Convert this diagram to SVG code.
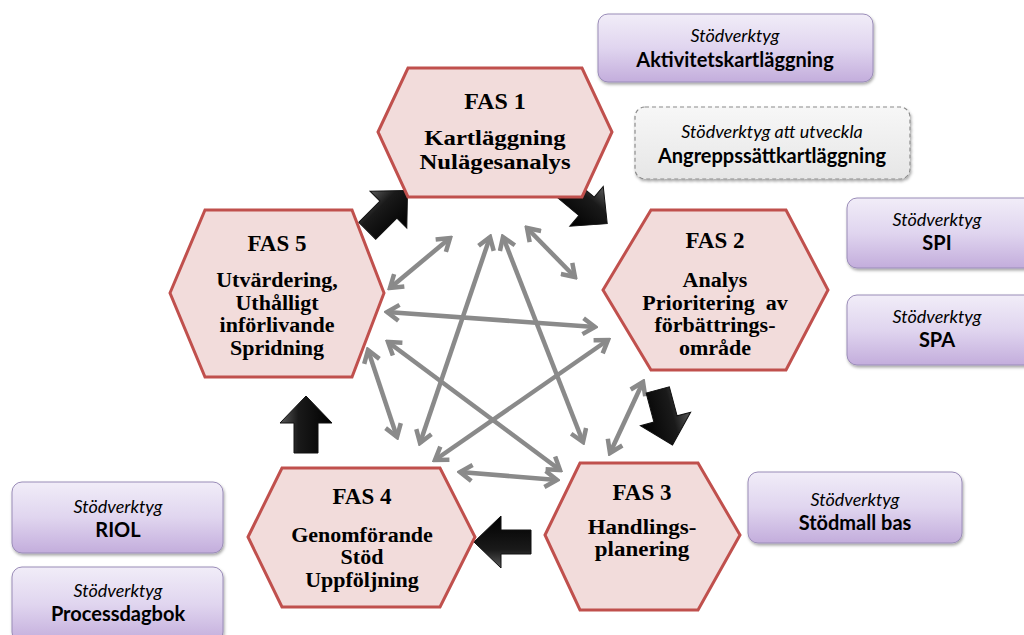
<svg xmlns="http://www.w3.org/2000/svg" width="1024" height="635" viewBox="0 0 1024 635">
<style>
.hex{fill:#f2dcdb;stroke:#c0504d;stroke-width:3}
.ht{font-family:"Liberation Serif",serif;font-weight:bold;fill:#000;text-anchor:middle}
.hf{font-size:23px}
.hb{font-size:20px}
.box{fill:url(#pg);stroke:#9a8cb8;stroke-width:1;filter:url(#sh)}
.dbox{fill:url(#gg);stroke:#8c8c8c;stroke-width:1.2;stroke-dasharray:4 3;filter:url(#sh)}
.bi{font-family:Lato,"Open Sans",sans-serif;font-style:italic;font-size:18px;fill:#000;text-anchor:middle}
.bb{font-family:Lato,"Open Sans",sans-serif;font-weight:bold;font-size:20px;fill:#000;text-anchor:middle}
.con{stroke:#8a8a8a;stroke-width:4.5;fill:none;marker-start:url(#ah);marker-end:url(#ah)}
.blk{fill:url(#bk);stroke:#111;stroke-width:1}
</style>
<defs>
<linearGradient id="pg" x1="0" y1="0" x2="0" y2="1">
<stop offset="0" stop-color="#f1edf8"/>
<stop offset="0.5" stop-color="#e0d5ef"/>
<stop offset="1" stop-color="#c3addc"/>
</linearGradient>
<linearGradient id="gg" x1="0" y1="0" x2="0" y2="1">
<stop offset="0" stop-color="#f7f7f7"/>
<stop offset="1" stop-color="#e6e6e6"/>
</linearGradient>
<linearGradient id="bk" x1="0" y1="0" x2="0" y2="1">
<stop offset="0" stop-color="#5a5a5a"/>
<stop offset="0.35" stop-color="#1a1a1a"/>
<stop offset="1" stop-color="#000"/>
</linearGradient>
<filter id="sh" x="-10%" y="-10%" width="125%" height="135%">
<feDropShadow dx="1" dy="2" stdDeviation="1.5" flood-color="#000" flood-opacity="0.35"/>
</filter>
<marker id="ah" viewBox="0 0 20 20" refX="17" refY="10" markerWidth="20" markerHeight="20" markerUnits="userSpaceOnUse" orient="auto-start-reverse">
<path d="M5,2 L17,10 L5,18" fill="none" stroke="#8a8a8a" stroke-width="4.5" stroke-linejoin="miter"/>
</marker>
<path id="ba" d="M-28,-12 L2,-12 L2,-26 L29,0 L2,26 L2,12 L-28,12 Z"/>
</defs>
<rect width="1024" height="635" fill="#fff"/>

<g id="connectors">
<line class="con" x1="390" y1="288" x2="450" y2="238"/>
<line class="con" x1="503" y1="237" x2="583" y2="442"/>
<line class="con" x1="490" y1="237" x2="420" y2="443"/>
<line class="con" x1="527" y1="228" x2="575" y2="277"/>
<line class="con" x1="387" y1="312" x2="595" y2="327"/>
<line class="con" x1="388" y1="342" x2="560" y2="470"/>
<line class="con" x1="608" y1="340" x2="435" y2="460"/>
<line class="con" x1="368" y1="350" x2="397" y2="437"/>
<line class="con" x1="643" y1="382" x2="610" y2="453"/>
<line class="con" x1="460" y1="472" x2="557" y2="480"/>
</g>

<g id="flow-arrows">
<use href="#ba" class="blk" transform="translate(387,211) rotate(-45)"/>
<use href="#ba" class="blk" transform="translate(585,205) rotate(40)"/>
<use href="#ba" class="blk" transform="translate(665,417) rotate(75)"/>
<use href="#ba" class="blk" transform="translate(503,542) rotate(180)"/>
<use href="#ba" class="blk" transform="translate(306,425) rotate(-90)"/>
</g>

<g id="fas1">
<polygon class="hex" points="378,132 408,68 582,68 612,132 582,197 408,197"/>
<text class="ht" x="495" y="109" font-size="24">FAS 1</text>
<g transform="translate(495,0) scale(1.15,1)">
<text class="ht" x="0" y="145" font-size="21.5">Kartläggning</text>
<text class="ht" x="0" y="169" font-size="21.5">Nulägesanalys</text>
</g>
</g>
<g id="fas2">
<polygon class="hex" points="603,290 651,210 786,210 828,290 786,370 651,370"/>
<text class="ht hf" x="715" y="248">FAS 2</text>
<g transform="translate(715,0) scale(1.1,1)">
<text class="ht hb" x="0" y="287">Analys</text>
<text class="ht hb" x="0" y="310" xml:space="preserve">Prioritering  av</text>
<text class="ht hb" x="0" y="332.5">förbättrings-</text>
<text class="ht hb" x="0" y="355">område</text>
</g>
</g>
<g id="fas3">
<polygon class="hex" points="545,535 580,463 698,463 740,535 698,610 580,610"/>
<text class="ht hf" x="642" y="500">FAS 3</text>
<g transform="translate(642,0) scale(1.15,1)">
<text class="ht hb" x="0" y="534">Handlings-</text>
<text class="ht hb" x="0" y="556.5">planering</text>
</g>
</g>
<g id="fas4">
<polygon class="hex" points="248,537 282,468 440,468 475,537 440,607 282,607"/>
<text class="ht hf" x="362" y="504">FAS 4</text>
<g transform="translate(362,0) scale(1.1,1)">
<text class="ht hb" x="0" y="542">Genomförande</text>
<text class="ht hb" x="0" y="564.5">Stöd</text>
<text class="ht hb" x="0" y="587">Uppföljning</text>
</g>
</g>
<g id="fas5">
<polygon class="hex" points="170,293 205,210 352,210 384,293 352,377 205,377"/>
<text class="ht hf" x="277" y="251">FAS 5</text>
<g transform="translate(277,0) scale(1.1,1)">
<text class="ht hb" x="0" y="287.5">Utvärdering,</text>
<text class="ht hb" x="0" y="310">Uthålligt</text>
<text class="ht hb" x="0" y="332.5">införlivande</text>
<text class="ht hb" x="0" y="355">Spridning</text>
</g>
</g>

<g id="tool-aktivitet">
<rect class="box" x="598" y="14" width="275" height="68" rx="10"/>
<text class="bi" x="735" y="42">Stödverktyg</text>
<text class="bb" x="735" y="67">Aktivitetskartläggning</text>
</g>
<g id="tool-angrepp">
<rect class="dbox" x="635" y="107" width="275" height="72" rx="10"/>
<text class="bi" x="772" y="138">Stödverktyg att utveckla</text>
<text class="bb" x="772" y="163">Angreppssättkartläggning</text>
</g>
<g id="tool-spi">
<rect class="box" x="847" y="198" width="190" height="70" rx="10"/>
<text class="bi" x="937" y="226">Stödverktyg</text>
<text class="bb" x="937" y="250">SPI</text>
</g>
<g id="tool-spa">
<rect class="box" x="847" y="295" width="190" height="70" rx="10"/>
<text class="bi" x="937" y="323">Stödverktyg</text>
<text class="bb" x="937" y="347">SPA</text>
</g>
<g id="tool-stodmall">
<rect class="box" x="748" y="472" width="214" height="71" rx="10"/>
<text class="bi" x="855" y="506">Stödverktyg</text>
<text class="bb" x="855" y="530">Stödmall bas</text>
</g>
<g id="tool-riol">
<rect class="box" x="12" y="482" width="211" height="71" rx="10"/>
<text class="bi" x="118" y="513">Stödverktyg</text>
<text class="bb" x="118" y="537">RIOL</text>
</g>
<g id="tool-process">
<rect class="box" x="12" y="567" width="211" height="75" rx="10"/>
<text class="bi" x="118" y="597">Stödverktyg</text>
<text class="bb" x="118" y="621">Processdagbok</text>
</g>
</svg>
